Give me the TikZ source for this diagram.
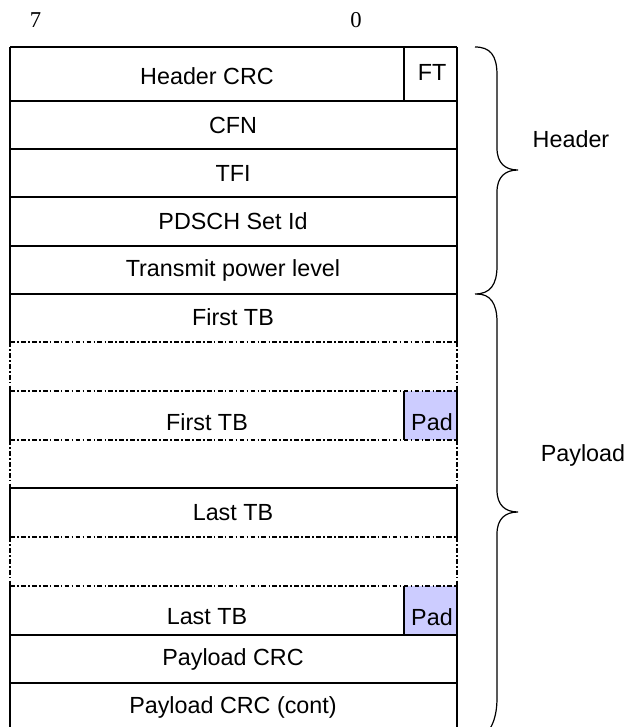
\documentclass[tikz,border=0pt]{standalone}
\usepackage{fontspec}
\setmainfont{Liberation Sans}
\newfontfamily\bitfont{Liberation Serif}
\usetikzlibrary{positioning}
\definecolor{padblue}{RGB}{204,204,255}
\tikzset{
  field/.style={anchor=center, inner sep=0pt, font=\fontsize{17.5}{21}\selectfont},
  bitno/.style={anchor=center, inner sep=0pt, font=\bitfont\fontsize{17}{20}\selectfont},
  solidedge/.style={line width=0.9pt},
  gapedge/.style={line width=0.9pt, dash pattern=on 3.6pt off 1.7pt on 1.2pt off 1.7pt},
  curly/.style={line width=0.9pt},
}
\begin{document}
\begin{tikzpicture}[x=0.75pt,y=-0.75pt]
\useasboundingbox (0,0) rectangle (629,727);
\clip (0,0) rectangle (629,727);

% bit numbers
\node[bitno] (bit7) at (35.5,20) {7};
\node[bitno] (bit0) at (356,20) {0};

% pad cells
\fill[padblue] (404,391) rectangle (457,440);
\fill[padblue] (404,586) rectangle (457,635);

% row borders
\foreach \y in {47,101,149,197,246,294,488,635,683}
  \draw[solidedge] (10,\y) -- (457,\y);
\foreach \y in {342,391,440,537,586}
  \draw[gapedge] (10,\y) -- (457,\y);

% outer sides
\foreach \a/\b in {47/342,391/440,488/537,586/745}
  {\draw[solidedge] (10,\a) -- (10,\b);
   \draw[solidedge] (457,\a) -- (457,\b);}
\foreach \a/\b in {342/391,440/488,537/586}
  {\draw[gapedge] (10,\a) -- (10,\b);
   \draw[gapedge] (457,\a) -- (457,\b);}

% FT and pad dividers
\foreach \a/\b in {47/101,391/440,586/635}
  \draw[solidedge] (404,\a) -- (404,\b);

% field names
\node[field] (hdrcrc) at (207,76) {Header CRC};
\node[field] (ft) at (432,72) {FT};
\node[field] (cfn) at (233,125) {CFN};
\node[field] (tfi) at (233,173) {TFI};
\node[field] (pdsch) at (233,221) {PDSCH Set Id};
\node[field] (txpow) at (233,270) {Transmit power level};
\node[field] (tbfirst) at (233,317) {First TB};
\node[field] (tbfirstend) at (207,422) {First TB};
\node[field] (padfirst) at (432,422) {Pad};
\node[field] (tblast) at (233,513) {Last TB};
\node[field] (tblastend) at (207,617) {Last TB};
\node[field] (padlast) at (432,617) {Pad};
\node[field] (plcrc) at (233,659) {Payload CRC};
\node[field] (plcrccont) at (233,707) {Payload CRC (cont)};

% braces
\draw[curly] (475,47) .. controls (490,47) and (497,55) .. (497,75)
  -- (497,148) .. controls (497,163) and (505,170) .. (518,170)
  .. controls (505,170) and (497,177) .. (497,192)
  -- (497,266) .. controls (497,285) and (490,294) .. (475,294);
\draw[curly] (477,294) .. controls (490,294) and (497,303) .. (497,322)
  -- (497,490) .. controls (497,505) and (505,512) .. (518,512)
  .. controls (505,512) and (497,519) .. (497,534)
  -- (497,698) .. controls (497,720) and (490,735) .. (475,742);

\node[field] (hdrlbl) at (571,139) {Header};
\node[field] (pllbl) at (583,455) {Payload};
\end{tikzpicture}
\end{document}
